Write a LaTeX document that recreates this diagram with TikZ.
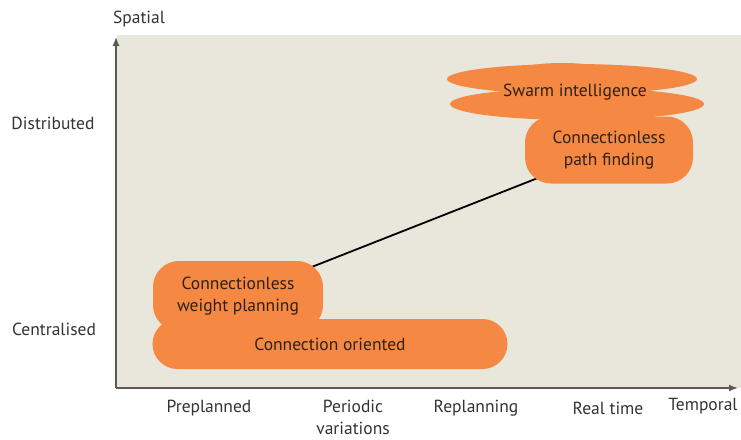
\documentclass[tikz,border=0pt]{standalone}
\usepackage{fontspec}
\setmainfont{PT Sans}
\usetikzlibrary{arrows.meta}
\definecolor{bgbeige}{HTML}{E9E6DC}
\definecolor{blob}{HTML}{F58842}
\definecolor{axisgray}{HTML}{5A5A5A}
\definecolor{txt}{HTML}{333333}
\definecolor{blobtxt}{HTML}{2E2218}
\begin{document}
\begin{tikzpicture}[x=1pt, y=-1pt,
		every node/.style={font=\fontsize{17.5}{22}\selectfont, text=txt, align=center},
		blob/.style={fill=blob, rounded corners=26pt, inner sep=0pt, text=blobtxt},
	]
	\path[use as bounding box] (0,0) rectangle (741,439);
	\fill[bgbeige] (117,35) rectangle (741,388);
	% axes
	\coordinate (O) at (116,388);
	\draw[-{Latex[length=9pt,width=7pt]}, axisgray, line width=1.2pt] (O) -- (116,37) coordinate (ytop);
	\draw[-{Latex[length=9pt,width=7pt]}, axisgray, line width=1.6pt] (O) -- (738,388) coordinate (xend);
	\node (spatial) at (139,19) {Spatial};
	\node (temporal) at (703,406) {Temporal};
	\node (distributed) at (53,123) {Distributed};
	\node (centralised) at (54,329) {Centralised};
	\node (preplanned) at (209,408) {Preplanned};
	\node (periodic) at (353,417) {Periodic\\variations};
	\node (replanning) at (476,408) {Replanning};
	\node (realtime) at (608,408) {Real time};
	% link between the two connectionless blobs
	\coordinate (wp) at (238,296);
	\coordinate (pf) at (609,150);
	\draw[line width=1.8pt] (wp) -- (pf);
	\node[blob, minimum width=170, minimum height=70] (weight) at (wp) {Connectionless\\weight planning};
	\node[blob, rounded corners=25pt, minimum width=355, minimum height=50] (oriented) at (330,344) {Connection oriented};
	\node[blob, minimum width=168, minimum height=67] (path) at (pf) {Connectionless\\path finding};
	% swarm cloud
	\fill[blob] (572,79) ellipse [x radius=125, y radius=15];
	\fill[blob] (577,104) ellipse [x radius=127, y radius=16];
	\fill[blob] (562,73) ellipse [x radius=50, y radius=10];
	\node[text=blobtxt] (swarm) at (575,92) {Swarm intelligence};
\end{tikzpicture}
\end{document}
